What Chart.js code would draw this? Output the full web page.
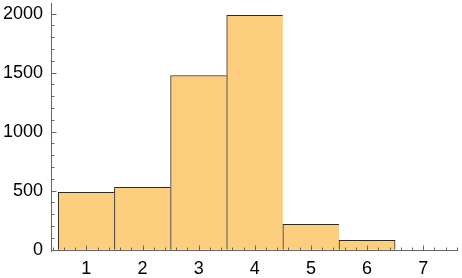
<!DOCTYPE html>
<html>
<head>
<meta charset="utf-8">
<script src="https://cdn.jsdelivr.net/npm/chart.js@4"></script>
<style>
  body { margin: 0; background: #fff; }
  #wrap { width: 462px; height: 278px; }
</style>
</head>
<body>
<div id="wrap"><canvas id="hist" width="462" height="278"></canvas></div>
<script>
// Histogram data (bin centres and counts)
const binCenters = [1, 2, 3, 4, 5, 6, 7];
const counts = [485, 527, 1476, 1985, 214, 78, 0];
const xTickValues = [1, 2, 3, 4, 5, 6, 7];
const yTickValues = [0, 500, 1000, 1500, 2000];

const axisColor = '#666666';
const barFill = 'rgb(252, 206, 126)';
const barEdge = 'rgb(45, 42, 38)';

// last bar that actually has a height gets the right edge
const lastFilled = counts.reduce((acc, c, i) => (c > 0 ? i : acc), -1);

// Mathematica style axes: lines through the origin, ticks pointing inwards
const axesPlugin = {
  id: 'mmaAxes',
  afterDatasetsDraw(chart) {
    const { ctx, chartArea, scales } = chart;
    const xs = scales.x, ys = scales.y;
    const y0 = Math.round(ys.getPixelForValue(0)) + 0.5;
    const x0 = Math.round(chartArea.left) + 0.5;
    ctx.save();
    ctx.strokeStyle = axisColor;
    ctx.lineWidth = 1;
    ctx.beginPath();
    // axis lines
    ctx.moveTo(chartArea.left, y0);
    ctx.lineTo(chartArea.right, y0);
    ctx.moveTo(x0, chartArea.top);
    ctx.lineTo(x0, chartArea.bottom);
    // x ticks every 0.2, major on integers
    for (let v = 0.4; v <= xs.max + 1e-9; v += 0.2) {
      const major = Math.abs(v - Math.round(v)) < 1e-6;
      const px = Math.round(xs.getPixelForValue(v)) + 0.5;
      ctx.moveTo(px, y0);
      ctx.lineTo(px, y0 - (major ? 5 : 3));
    }
    // y ticks every 100, major every 500
    for (let v = 0; v <= ys.max; v += 100) {
      const major = v % 500 === 0;
      const py = Math.round(ys.getPixelForValue(v)) + 0.5;
      ctx.moveTo(x0, py);
      ctx.lineTo(x0 + (major ? 5 : 3), py);
    }
    ctx.stroke();
    ctx.restore();
  }
};

const ctx = document.getElementById('hist').getContext('2d');

const histChart = new Chart(ctx, {
  type: 'bar',
  data: {
    datasets: [{
      data: binCenters.map((x, i) => ({ x: x, y: counts[i] })),
      backgroundColor: barFill,
      borderColor: barEdge,
      borderWidth: (c) => ({ top: 1, left: 1, bottom: 0, right: c.dataIndex === lastFilled ? 1 : 0 }),
      borderSkipped: false,
      barPercentage: 1,
      categoryPercentage: 1
    }]
  },
  options: {
    responsive: false,
    animation: false,
    events: [],
    layout: { padding: { top: 3, right: 4, left: 0, bottom: 0 } },
    plugins: {
      legend: { display: false },
      tooltip: { enabled: false }
    },
    scales: {
      x: {
        type: 'linear',
        min: 0.37,
        max: 7.62,
        offset: false,
        grid: { display: false, drawTicks: false },
        border: { display: false },
        afterBuildTicks: (scale) => { scale.ticks = xTickValues.map(v => ({ value: v })); },
        afterFit: (scale) => {
          scale.height = 26;
          scale.paddingLeft = 0;
          scale.paddingRight = 0;
        },
        ticks: {
          color: '#000',
          padding: 6,
          maxRotation: 0,
          autoSkip: false,
          callback: (v) => String(v),
          font: { family: 'Liberation Sans, Arial', size: 18 }
        }
      },
      y: {
        min: -20,
        max: 2090,
        grid: { display: false, drawTicks: false },
        border: { display: false },
        afterBuildTicks: (scale) => { scale.ticks = yTickValues.map(v => ({ value: v })); },
        afterFit: (scale) => {
          scale.width = 51;
          scale.paddingTop = 0;
          scale.paddingBottom = 0;
        },
        ticks: {
          color: '#000',
          padding: 8,
          autoSkip: false,
          callback: (v) => String(v),
          font: { family: 'Liberation Sans, Arial', size: 18 }
        }
      }
    }
  },
  plugins: [axesPlugin]
});
</script>
</body>
</html>
